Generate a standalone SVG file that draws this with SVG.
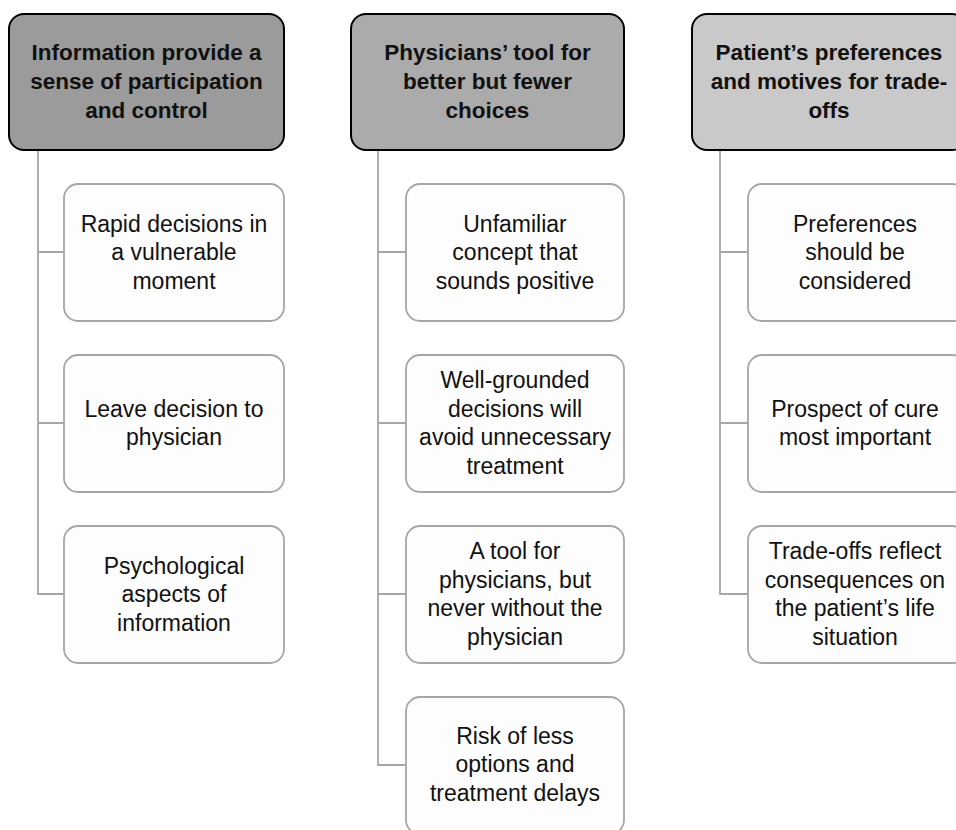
<svg xmlns="http://www.w3.org/2000/svg" width="956" height="830" viewBox="0 0 956 830">
<style>
.hdr{stroke:#000;stroke-width:2}
.box{fill:#fdfdfd;stroke:#a6a6a6;stroke-width:1.8}
.ht{font-family:"Liberation Sans",Arial,sans-serif;font-weight:bold;font-size:22.5px;fill:#111;text-anchor:middle}
.bt{font-family:"Liberation Sans",Arial,sans-serif;font-size:23px;fill:#111;text-anchor:middle}
.con{fill:none;stroke:#a6a6a6;stroke-width:1.8}
</style>
<rect width="956" height="830" fill="#fff"/>
<g id="connectors">
<path class="con" d="M38 150V594H64M38 252H64M38 423H64"/>
<path class="con" d="M378 150V765H406M378 252H406M378 423H406M378 594H406"/>
<path class="con" d="M720 150V594H748M720 252H748M720 423H748"/>
</g>
<g id="h1"><rect class="hdr" x="9" y="14" width="275" height="136" rx="15" fill="#9b9b9b"/>
<text class="ht" x="146.5" y="60">Information provide a</text><text class="ht" x="146.5" y="89">sense of participation</text><text class="ht" x="146.5" y="118">and control</text></g>
<g id="h2"><rect class="hdr" x="351" y="14" width="273" height="136" rx="15" fill="#ababab"/>
<text class="ht" x="487.5" y="60">Physicians’ tool for</text><text class="ht" x="487.5" y="89">better but fewer</text><text class="ht" x="487.5" y="118">choices</text></g>
<g id="h3"><rect class="hdr" x="692" y="14" width="275" height="136" rx="15" fill="#c9c9c9"/>
<text class="ht" x="829" y="60">Patient’s preferences</text><text class="ht" x="829" y="89">and motives for trade-</text><text class="ht" x="829" y="118">offs</text></g>
<g id="b1"><rect class="box" x="64" y="184" width="220" height="137" rx="14"/>
<text class="bt" x="174" y="232">Rapid decisions in</text><text class="bt" x="174" y="260">a vulnerable</text><text class="bt" x="174" y="289">moment</text></g>
<g id="b2"><rect class="box" x="64" y="355" width="220" height="137" rx="14"/>
<text class="bt" x="174" y="417">Leave decision to</text><text class="bt" x="174" y="445">physician</text></g>
<g id="b3"><rect class="box" x="64" y="526" width="220" height="137" rx="14"/>
<text class="bt" x="174" y="574">Psychological</text><text class="bt" x="174" y="602">aspects of</text><text class="bt" x="174" y="631">information</text></g>
<g id="b4"><rect class="box" x="406" y="184" width="218" height="137" rx="14"/>
<text class="bt" x="515" y="232">Unfamiliar</text><text class="bt" x="515" y="260">concept that</text><text class="bt" x="515" y="289">sounds positive</text></g>
<g id="b5"><rect class="box" x="406" y="355" width="218" height="137" rx="14"/>
<text class="bt" x="515" y="388">Well-grounded</text><text class="bt" x="515" y="417">decisions will</text><text class="bt" x="515" y="445">avoid unnecessary</text><text class="bt" x="515" y="474">treatment</text></g>
<g id="b6"><rect class="box" x="406" y="526" width="218" height="137" rx="14"/>
<text class="bt" x="515" y="559">A tool for</text><text class="bt" x="515" y="588">physicians, but</text><text class="bt" x="515" y="616">never without the</text><text class="bt" x="515" y="645">physician</text></g>
<g id="b7"><rect class="box" x="406" y="697" width="218" height="137" rx="14"/>
<text class="bt" x="515" y="744">Risk of less</text><text class="bt" x="515" y="772">options and</text><text class="bt" x="515" y="801">treatment delays</text></g>
<g id="b8"><rect class="box" x="748" y="184" width="218" height="137" rx="14"/>
<text class="bt" x="855" y="232">Preferences</text><text class="bt" x="855" y="260">should be</text><text class="bt" x="855" y="289">considered</text></g>
<g id="b9"><rect class="box" x="748" y="355" width="218" height="137" rx="14"/>
<text class="bt" x="855" y="417">Prospect of cure</text><text class="bt" x="855" y="445">most important</text></g>
<g id="b10"><rect class="box" x="748" y="526" width="218" height="137" rx="14"/>
<text class="bt" x="855" y="559">Trade-offs reflect</text><text class="bt" x="855" y="588">consequences on</text><text class="bt" x="855" y="616">the patient’s life</text><text class="bt" x="855" y="645">situation</text></g>
</svg>
